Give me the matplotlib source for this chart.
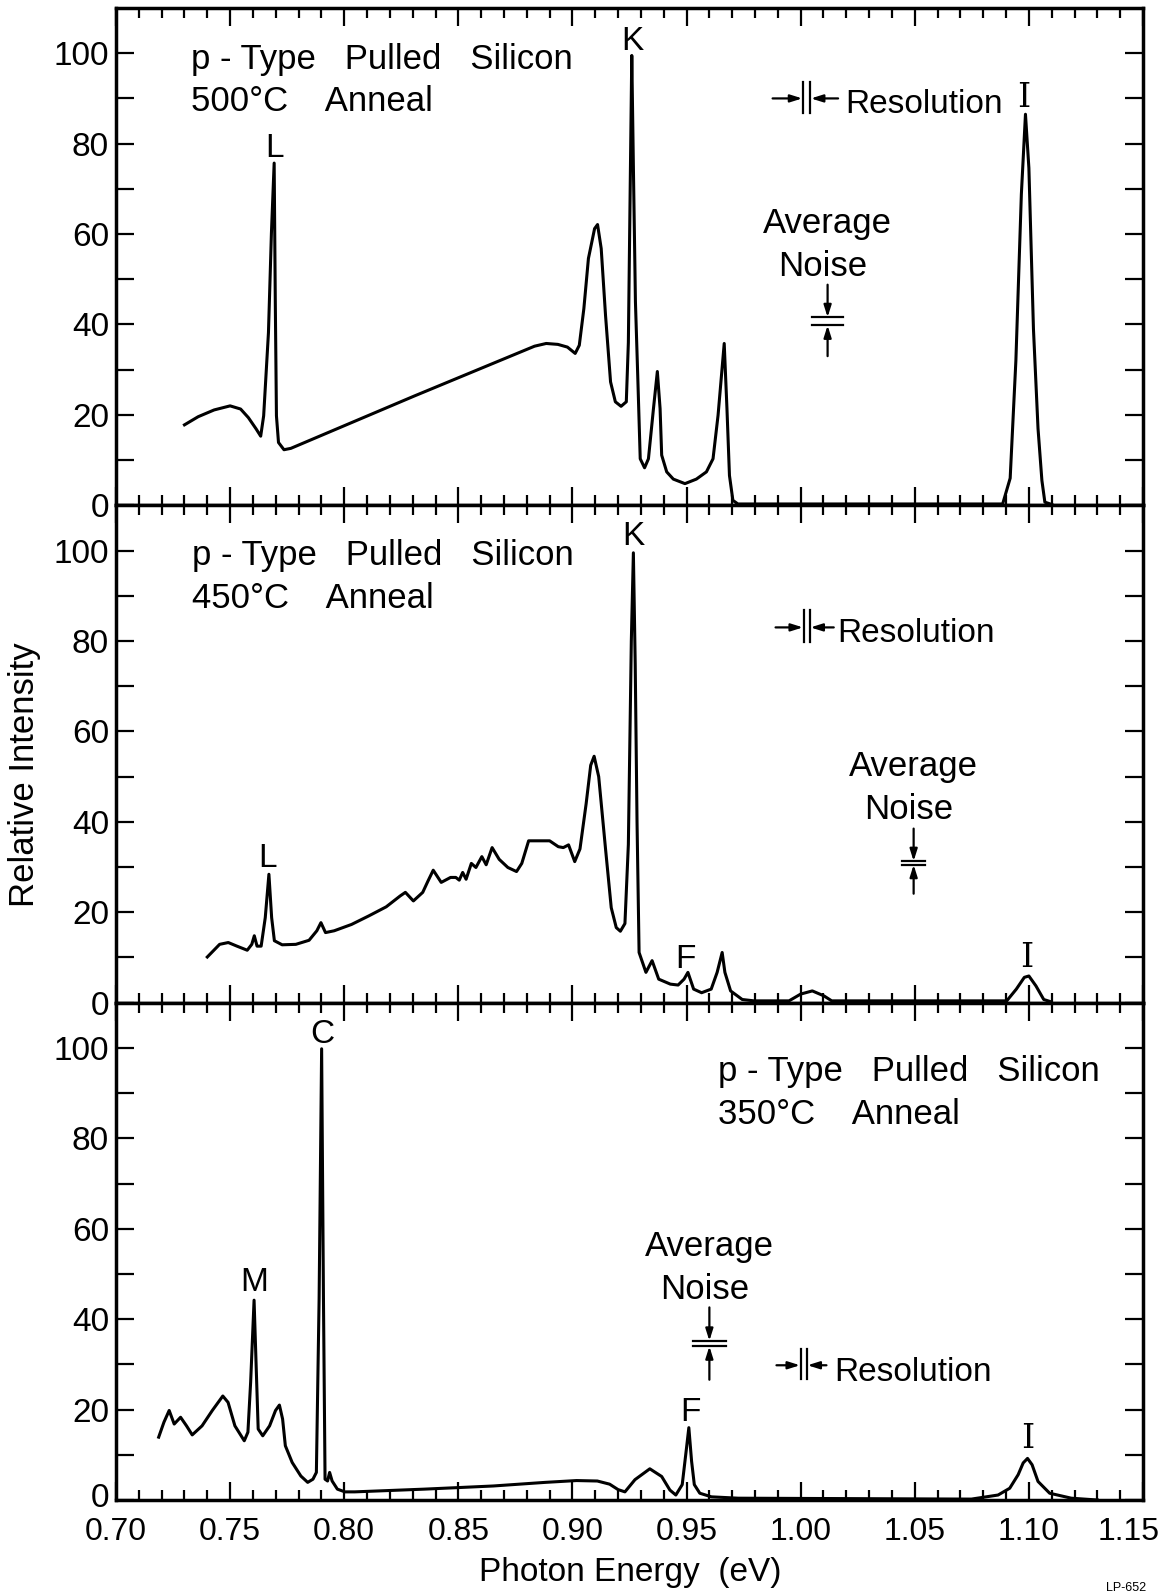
import matplotlib
matplotlib.use("Agg")
import matplotlib.pyplot as plt
from matplotlib.ticker import MultipleLocator, FixedLocator, FormatStrFormatter
from matplotlib.transforms import ScaledTranslation

plt.rcParams['font.family'] = ['Liberation Sans', 'DejaVu Sans']

# ---- data ----
# 500 C anneal
e500 = [0.730, 0.736, 0.743, 0.750, 0.7546, 0.758, 0.7614, 0.7634, 0.7647, 0.7668,
        0.7681, 0.7693, 0.7698, 0.7703, 0.7712, 0.7736, 0.7766, 0.8308, 0.8834, 0.8885,
        0.8936, 0.8978, 0.9012, 0.9030, 0.9050, 0.9070, 0.9097, 0.9110, 0.9126, 0.9145,
        0.9167, 0.9188, 0.9213, 0.9236, 0.9245, 0.9253, 0.9260, 0.9267, 0.9276, 0.9286,
        0.9297, 0.9316, 0.9333, 0.9355, 0.9372, 0.9384, 0.9391, 0.9413, 0.9442, 0.9493,
        0.9543, 0.9587, 0.9616, 0.9638, 0.9665, 0.9677, 0.9688, 0.9703, 0.9725, 1.0885,
        1.0918, 1.0943, 1.0967, 1.0985, 1.1000, 1.1020, 1.1040, 1.1057, 1.1070, 1.1100]
i500 = [17.8, 19.6, 21.1, 22.0, 21.3, 19.4, 16.9, 15.3, 19.8, 38.2,
        60.2, 75.7, 45.0, 19.8, 13.9, 12.3, 12.6, 24.2, 35.2, 35.8,
        35.6, 35.0, 33.6, 35.4, 43.5, 54.6, 61.2, 62.1, 56.8, 42.0,
        27.3, 22.9, 21.9, 22.9, 36.0, 70.0, 99.5, 75.0, 45.0, 28.8,
        10.3, 8.3, 10.3, 21.4, 29.6, 21.4, 11.1, 7.4, 5.8, 4.8,
        5.8, 7.4, 10.3, 19.9, 35.8, 21.4, 6.6, 1.1, 0.3, 0.3,
        6.0, 32.0, 68.8, 86.5, 74.6, 39.0, 17.0, 5.5, 0.7, 0.2]

# 450 C anneal
e450 = [0.740, 0.7454, 0.7492, 0.753, 0.7575, 0.7595, 0.7606, 0.7618, 0.7636, 0.7654,
        0.7670, 0.7682, 0.7694, 0.7728, 0.7788, 0.7846, 0.7880, 0.7898, 0.7918, 0.7956,
        0.8032, 0.8108, 0.8184, 0.8245, 0.8268, 0.8303, 0.8344, 0.8367, 0.8390, 0.8425,
        0.8466, 0.8489, 0.8504, 0.8519, 0.8534, 0.8557, 0.8577, 0.8603, 0.8622, 0.8648,
        0.8679, 0.8717, 0.8755, 0.8778, 0.8808, 0.8854, 0.8900, 0.8938, 0.8960, 0.8983,
        0.9010, 0.9033, 0.9060, 0.9080, 0.9095, 0.9115, 0.9145, 0.9170, 0.9192, 0.9210,
        0.9230, 0.9245, 0.9258, 0.9267, 0.9275, 0.9283, 0.9292, 0.9322, 0.9349, 0.9378,
        0.9429, 0.9463, 0.9489, 0.9506, 0.9531, 0.9566, 0.9608, 0.9634, 0.9656, 0.9668,
        0.9693, 0.9744, 0.9796, 0.9949, 1.0000, 1.0051, 1.0102, 1.0136, 1.0903, 1.0945,
        1.0980, 1.1000, 1.1031, 1.1065, 1.1090]
i450 = [10.1, 12.9, 13.3, 12.5, 11.6, 12.9, 14.8, 12.5, 12.5, 18.8,
        28.4, 18.8, 13.7, 12.8, 12.9, 13.8, 15.9, 17.7, 15.5, 15.9,
        17.3, 19.2, 21.2, 23.6, 24.4, 22.5, 24.4, 26.9, 29.3, 26.6,
        27.7, 27.7, 27.1, 28.8, 27.3, 30.8, 29.9, 32.3, 30.5, 34.3,
        31.7, 29.9, 29.0, 30.8, 35.8, 35.8, 35.8, 34.5, 34.3, 34.9,
        31.2, 34.0, 44.0, 52.5, 54.5, 50.0, 34.0, 21.0, 16.6, 15.8,
        17.5, 35.0, 80.0, 99.5, 75.0, 40.0, 11.1, 6.7, 9.3, 5.2,
        4.1, 3.9, 5.2, 6.7, 3.0, 2.2, 3.0, 6.7, 11.1, 6.7,
        2.6, 0.7, 0.4, 0.4, 1.9, 2.6, 1.5, 0.4, 0.4, 3.0,
        5.6, 5.9, 3.7, 0.7, 0.3]

# 350 C anneal
e350 = [0.7187, 0.7210, 0.7233, 0.7255, 0.7283, 0.7309, 0.7334, 0.7377, 0.7422, 0.7468,
        0.7491, 0.7521, 0.7562, 0.7578, 0.7590, 0.7605, 0.7614, 0.7623, 0.7643, 0.7673,
        0.7699, 0.7716, 0.7730, 0.7742, 0.7772, 0.7810, 0.7840, 0.7863, 0.7878, 0.7890,
        0.7901, 0.7909, 0.7916, 0.7927, 0.7936, 0.7947, 0.7970, 0.8003, 0.8046, 0.8350,
        0.8653, 0.8881, 0.9018, 0.9109, 0.9163, 0.9200, 0.9230, 0.9274, 0.9339, 0.9391,
        0.9427, 0.9453, 0.9481, 0.9500, 0.9510, 0.9522, 0.9534, 0.9558, 0.9609, 0.9726,
        1.0748, 1.0865, 1.0916, 1.0953, 1.0975, 1.0994, 1.1014, 1.1040, 1.1091, 1.1186,
        1.1300]
i350 = [13.9, 17.2, 19.8, 16.8, 18.3, 16.4, 14.4, 16.4, 19.8, 23.0,
        21.6, 16.4, 13.1, 15.0, 26.1, 44.2, 29.8, 15.7, 14.2, 16.4,
        19.8, 21.0, 17.9, 12.0, 8.3, 5.3, 3.9, 4.6, 6.1, 44.6,
        99.8, 44.6, 4.6, 4.2, 6.1, 4.2, 2.4, 1.8, 1.8, 2.4,
        3.1, 3.9, 4.3, 4.2, 3.5, 2.3, 1.8, 4.5, 6.9, 5.2,
        2.2, 1.1, 3.4, 11.6, 16.0, 8.6, 3.4, 1.5, 0.7, 0.4,
        0.2, 1.1, 2.6, 5.6, 8.2, 9.2, 7.8, 4.1, 1.5, 0.4,
        0.0]

sample = "p - Type   Pulled   Silicon"
anneals = ["500°C    Anneal", "450°C    Anneal", "350°C    Anneal"]

FS = 24

fig = plt.figure(figsize=(11.66, 15.94), dpi=100)
left, width = 116 / 1166, 1027 / 1166
bottom, top = 94 / 1594, 1586 / 1594
h = (top - bottom) / 3
axes = [fig.add_axes([left, bottom + (2 - k) * h, width, h]) for k in range(3)]


def style(ax, show_x):
    ax.set_xlim(0.70, 1.15)
    ax.set_ylim(0, 110)
    ax.xaxis.set_major_locator(FixedLocator([0.70, 0.75, 0.80, 0.85, 0.90, 0.95,
                                             1.00, 1.05, 1.10, 1.15]))
    ax.xaxis.set_minor_locator(MultipleLocator(0.01))
    ax.yaxis.set_major_locator(FixedLocator([0, 20, 40, 60, 80, 100]))
    ax.yaxis.set_minor_locator(FixedLocator([10, 30, 50, 70, 90]))
    ax.xaxis.set_major_formatter(FormatStrFormatter('%.2f'))
    ax.tick_params(which='both', direction='in', top=True, right=True, width=1.6)
    ax.tick_params(axis='x', which='major', length=13, pad=12, labelsize=23)
    ax.tick_params(axis='x', which='minor', length=7)
    ax.tick_params(axis='y', which='both', length=13, pad=5, labelsize=FS)
    if not show_x:
        ax.tick_params(axis='x', labelbottom=False)
    for s in ax.spines.values():
        s.set_linewidth(2.5)


def title(ax, x, y, line2):
    ax.text(x, y, sample, fontsize=25, ha='left', va='baseline')
    ax.text(x, y - 9.4, line2, fontsize=25, ha='left', va='baseline')


def resolution(ax, xl, xr, x1, x2, yc, y0, y1, xt, yt):
    ax.plot([x1, x1], [y0, y1], color='black', lw=1.6)
    ax.plot([x2, x2], [y0, y1], color='black', lw=1.6)
    ap = dict(arrowstyle='-|>,head_length=0.7,head_width=0.22', color='black',
              lw=1.6, shrinkA=0, shrinkB=0)
    ax.annotate('', xy=(x1 - 0.0004, yc), xytext=(xl, yc), arrowprops=ap)
    ax.annotate('', xy=(x2 + 0.0004, yc), xytext=(xr, yc), arrowprops=ap)
    ax.text(xt, yt, 'Resolution', fontsize=FS, ha='left', va='baseline')


def noise(ax, xc, hw, ytop, ybot, ya, yb, ylab):
    ax.plot([xc - hw, xc + hw], [ytop, ytop], color='black', lw=1.6)
    ax.plot([xc - hw, xc + hw], [ybot, ybot], color='black', lw=1.6)
    ap = dict(arrowstyle='-|>,head_length=0.7,head_width=0.22', color='black',
              lw=1.6, shrinkA=0, shrinkB=0)
    ax.annotate('', xy=(xc, ytop), xytext=(xc, ya), arrowprops=ap)
    ax.annotate('', xy=(xc, ybot), xytext=(xc, yb), arrowprops=ap)
    ax.text(xc, ylab + 9.5, 'Average', fontsize=25, ha='center', va='baseline')
    ax.text(xc - 0.002, ylab, 'Noise', fontsize=25, ha='center', va='baseline')


def peak_label(ax, x, y, s):
    fam = ['DejaVu Serif'] if s == 'I' else None
    ax.text(x, y, s, fontsize=FS, ha='center', va='baseline', family=fam)


# panel 1: 500 C
ax = axes[0]
style(ax, False)
ax.plot(e500, i500, color='black', lw=2.2)
title(ax, 0.733, 96.6, anneals[0])
peak_label(ax, 0.7693, 77.0, 'L')
peak_label(ax, 0.9262, 100.8, 'K')
peak_label(ax, 1.0978, 88.0, 'I')
resolution(ax, 0.9877, 1.0164, 1.0011, 1.0041, 90.0, 86.8, 93.6, 1.0195, 86.8)
noise(ax, 1.0118, 0.0068, 41.6, 39.8, 48.8, 33.0, 50.8)

# panel 2: 450 C
ax = axes[1]
style(ax, False)
ax.plot(e450, i450, color='black', lw=2.2)
title(ax, 0.7335, 96.8, anneals[1])
peak_label(ax, 0.7665, 30.0, 'L')
peak_label(ax, 0.9267, 101.3, 'K')
peak_label(ax, 0.9497, 7.6, 'F')
peak_label(ax, 1.0992, 7.8, 'I')
resolution(ax, 0.9890, 1.0145, 1.0014, 1.0039, 83.0, 79.8, 86.9, 1.0160, 79.8)
noise(ax, 1.0495, 0.0050, 31.3, 30.5, 38.5, 24.1, 40.6)

# panel 3: 350 C
ax = axes[2]
style(ax, True)
ax.plot(e350, i350, color='black', lw=2.2)
title(ax, 0.9637, 92.6, anneals[2])
peak_label(ax, 0.7905, 101.0, 'C')
peak_label(ax, 0.7607, 46.3, 'M')
peak_label(ax, 0.9515, 17.5, 'F')
peak_label(ax, 1.0994, 11.6, 'I')
resolution(ax, 0.9894, 1.0113, 1.0001, 1.0026, 29.8, 26.8, 33.5, 1.0147, 26.3)
noise(ax, 0.9600, 0.0071, 35.2, 34.0, 42.6, 26.6, 44.5)

# pull the last x label inside the figure, lift the bottom "0" off the x labels
lab = ax.get_xticklabels()[-1]
lab.set_transform(lab.get_transform() + ScaledTranslation(-14 / 100, 0, fig.dpi_scale_trans))
zero = ax.get_yticklabels()[0]
zero.set_transform(zero.get_transform() + ScaledTranslation(0, 5 / 100, fig.dpi_scale_trans))

fig.text(25 / 1166, 1 - 775 / 1594, 'Relative Intensity', rotation=90,
         fontsize=25, ha='center', va='center')
fig.text(630 / 1166, 1 - 1572 / 1594, 'Photon Energy  (eV)',
         fontsize=FS, ha='center', va='center')
fig.text(1126 / 1166, 1 - 1588 / 1594, 'LP-652', fontsize=9, ha='center', va='center')

fig.savefig('out.png', dpi=100)
